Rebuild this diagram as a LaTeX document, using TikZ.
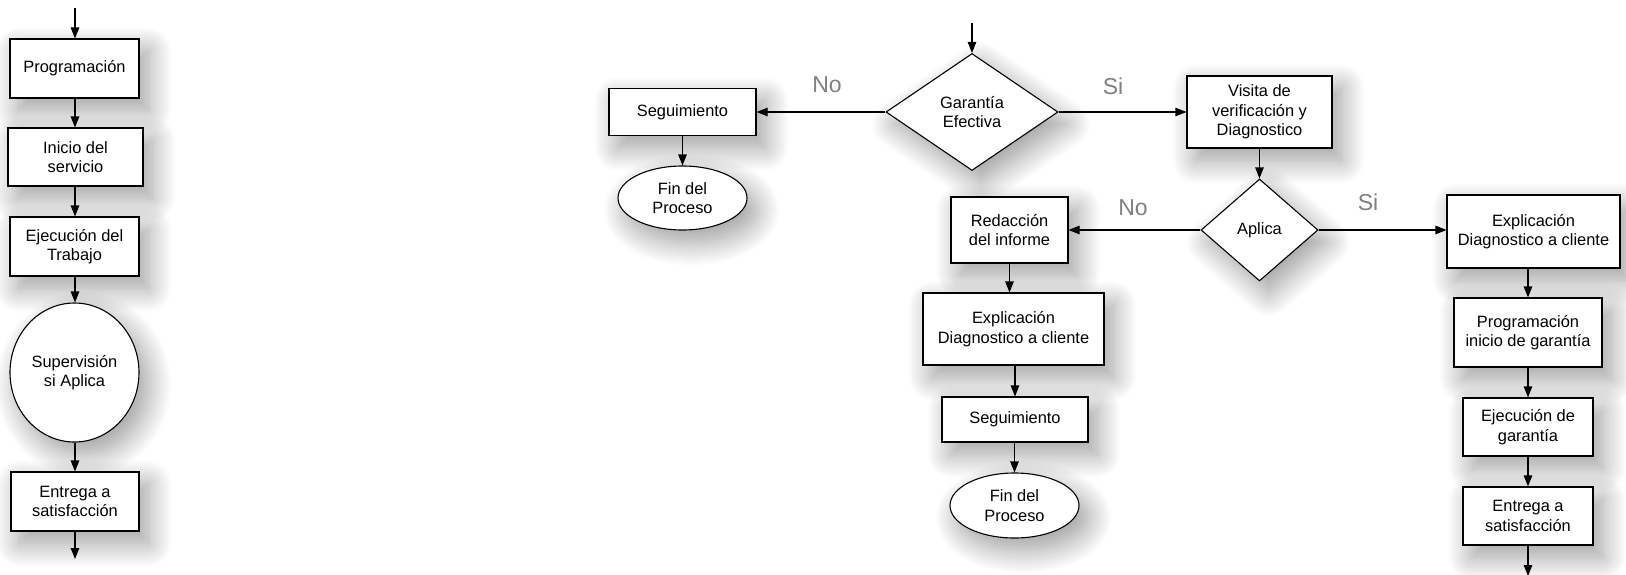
\documentclass[tikz,border=0pt]{standalone}
\usepackage{fontspec}
\setmainfont{Liberation Sans}
\usetikzlibrary{arrows.meta,shapes.geometric,shadows.blur}

\begin{document}
\begin{tikzpicture}[x=1pt,y=-1pt,
  every node/.style={font=\fontsize{16.4}{19.5}\selectfont, align=center, inner sep=0pt},
  soft/.style={blur shadow={shadow xshift=9pt, shadow yshift=-12pt, shadow blur radius=24pt, shadow blur steps=24, shadow opacity=40}},
  box/.style={draw, line width=1.1pt, fill=white, rectangle, soft},
  oval/.style={draw, line width=1.1pt, fill=white, ellipse, soft},
  decision/.style={draw, line width=1.1pt, fill=white, diamond, soft},
  answer/.style={font=\fontsize{23}{26}\selectfont, text=black!50},
  flow/.style={line width=1.1pt, -{Triangle[length=11pt,width=8.5pt]}}
]
\useasboundingbox (0,0) rectangle (1626,574);

% ---- service column ----
\coordinate (s0) at (75,8);
\node[box, minimum width=129pt, minimum height=59pt] (prog) at (74.5,68.5) {Programación};
\node[box, minimum width=135pt, minimum height=58pt] (ini) at (75.5,157) {Inicio del\\servicio};
\node[box, minimum width=129pt, minimum height=59pt] (ejec) at (74.5,246.5) {Ejecución del\\Trabajo};
\node[oval, minimum width=129pt, minimum height=139pt] (sup) at (74.5,372.5) {Supervisión\\si Aplica};
\node[box, minimum width=128pt, minimum height=59pt] (ent) at (75,501.5) {Entrega a\\satisfacción};
\coordinate (s1) at (75,559);

\draw[flow] (s0) -- (s0 |- prog.north);
\draw[flow] (prog.south -| s0) -- (s0 |- ini.north);
\draw[flow] (ini.south -| s0) -- (s0 |- ejec.north);
\draw[flow] (ejec.south -| s0) -- (s0 |- sup.north);
\draw[flow] (sup.south -| s0) -- (s0 |- ent.north);
\draw[flow] (ent.south -| s0) -- (s1);

% ---- warranty process ----
\coordinate (g0) at (972,23);
\node[decision, minimum width=172pt, minimum height=117pt, aspect=1.47] (gar) at (972,112) {Garantía\\Efectiva};
\node[box, minimum width=147pt, minimum height=47pt] (seg1) at (682.5,112) {Seguimiento};
\node[oval, minimum width=129pt, minimum height=64pt] (fin1) at (682.5,198) {Fin del\\Proceso};
\node[box, minimum width=145pt, minimum height=72pt] (vis) at (1259.5,112) {Visita de\\verificación y\\Diagnostico};
\node[decision, minimum width=117pt, minimum height=102pt, aspect=1.15] (apl) at (1259.5,230) {Aplica};

\node[box, minimum width=117pt, minimum height=66pt] (red) at (1009.5,230) {Redacción\\del informe};
\node[box, minimum width=181pt, minimum height=72pt] (exp1) at (1013.5,329) {Explicación\\Diagnostico a cliente};
\node[box, minimum width=146pt, minimum height=45pt] (seg2) at (1015,419.5) {Seguimiento};
\node[oval, minimum width=129pt, minimum height=65pt] (fin2) at (1014.5,505.5) {Fin del\\Proceso};

\node[box, minimum width=173pt, minimum height=73pt] (exp2) at (1533.5,231.5) {Explicación\\Diagnostico a cliente};
\node[box, minimum width=148pt, minimum height=69pt] (pg) at (1528,332.5) {Programación\\inicio de garantía};
\node[box, minimum width=130pt, minimum height=58pt] (eg) at (1528,427) {Ejecución de\\garantía};
\node[box, minimum width=130pt, minimum height=58pt] (ent2) at (1528,516) {Entrega a\\satisfacción};
\coordinate (e1) at (1528,576);

\node[answer] (no1) at (827,85) {No};
\node[answer] (si1) at (1113,86) {Si};
\node[answer] (no2) at (1133,208) {No};
\node[answer] (si2) at (1368,202) {Si};

\draw[flow] (g0) -- (gar.north);
\draw[flow] (gar.west) -- (gar.west -| seg1.east);
\draw[flow] (seg1.south) -- (fin1.north);
\draw[flow] (gar.east) -- (gar.east -| vis.west);
\draw[flow] (vis.south -| apl.north) -- (apl.north);
\draw[flow] (apl.west) -- (apl.west -| red.east);
\draw[flow] (apl.east) -- (apl.east -| exp2.west);

\draw[flow] (red.south) -- (red.south |- exp1.north);
\draw[flow] (exp1.south -| seg2.north) -- (seg2.north);
\draw[flow] (seg2.south -| fin2.north) -- (fin2.north);

\draw[flow] (exp2.south -| pg.north) -- (pg.north);
\draw[flow] (pg.south) -- (eg.north);
\draw[flow] (eg.south) -- (ent2.north);
\draw[flow] (ent2.south) -- (e1);
\end{tikzpicture}
\end{document}
